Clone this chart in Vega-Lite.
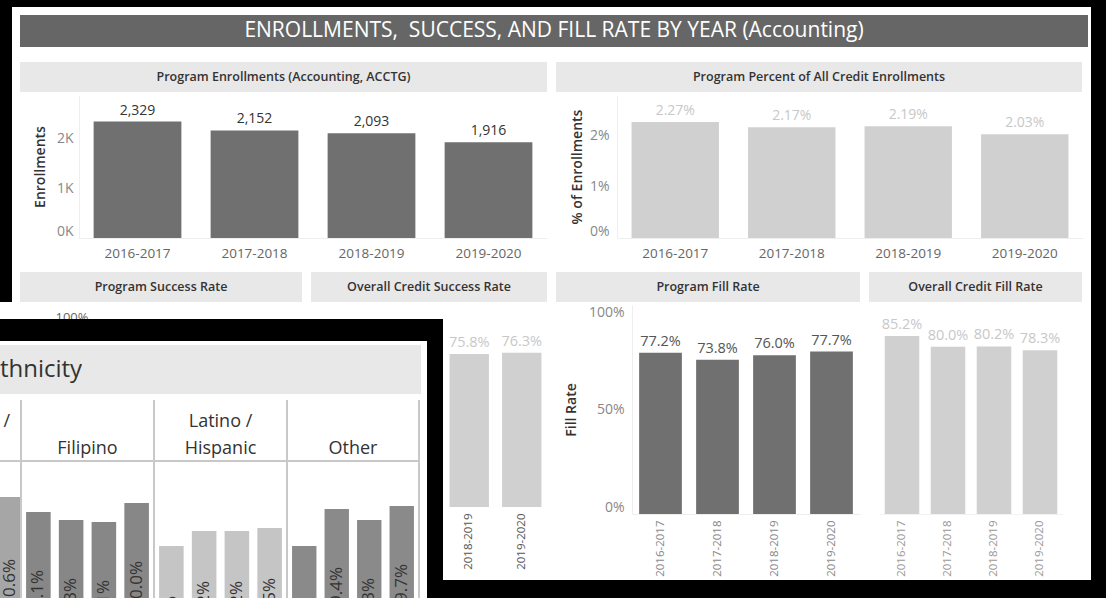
{
"$schema":"https://vega.github.io/schema/vega-lite/v6.json",
"background":"white",
"padding":0,
"spacing":0,
"config":{"view":{"stroke":null},"font":"Open Sans","concat":{"spacing":0},"axis":{"labelFont":"Open Sans","titleFont":"Open Sans"}},
"datasets":{
 "enroll":[{"year":"2016-2017","n":2329},{"year":"2017-2018","n":2152},{"year":"2018-2019","n":2093},{"year":"2019-2020","n":1916}],
 "pct":[{"year":"2016-2017","v":0.0227},{"year":"2017-2018","v":0.0217},{"year":"2018-2019","v":0.0219},{"year":"2019-2020","v":0.0203}],
 "osr":[{"year":"2018-2019","v":0.758},{"year":"2019-2020","v":0.763}],
 "fill":[{"year":"2016-2017","v":0.772},{"year":"2017-2018","v":0.738},{"year":"2018-2019","v":0.760},{"year":"2019-2020","v":0.777}],
 "ofill":[{"year":"2016-2017","v":0.852},{"year":"2017-2018","v":0.800},{"year":"2018-2019","v":0.802},{"year":"2019-2020","v":0.783}],
 "eth":[
  {"eth":"prev","year":"2019-2020","v":0.106},
  {"eth":"Filipino","year":"2016-2017","v":0.091},{"eth":"Filipino","year":"2017-2018","v":0.083},{"eth":"Filipino","year":"2018-2019","v":0.081},{"eth":"Filipino","year":"2019-2020","v":0.100},
  {"eth":"Latino","year":"2016-2017","v":0.057},{"eth":"Latino","year":"2017-2018","v":0.072},{"eth":"Latino","year":"2018-2019","v":0.072},{"eth":"Latino","year":"2019-2020","v":0.075},
  {"eth":"Other","year":"2016-2017","v":0.057},{"eth":"Other","year":"2017-2018","v":0.094},{"eth":"Other","year":"2018-2019","v":0.083},{"eth":"Other","year":"2019-2020","v":0.097}
 ]
},
"vconcat":[
 {"width":1106,"height":7,"data":{"values":[]},"mark":"point","view":{"fill":"black","stroke":null}},
 {"spacing":0,"hconcat":[
  {"spacing":0,"vconcat":[
   {"spacing":0,"hconcat":[
    {"width":12,"height":295,"data":{"values":[]},"mark":"point","view":{"fill":"black","stroke":null}},
    {"spacing":0,"vconcat":[
     {"width":1079,"height":8,"data":{"values":[]},"mark":"point"},
     {"bounds":"flush","spacing":0,"hconcat":[
      {"width":8,"height":32,"data":{"values":[]},"mark":"point"},
      {"width":1068,"height":32,"view":{"fill":"#666666","stroke":null},"data":{"values":[{"t":"ENROLLMENTS, \u00a0SUCCESS, AND FILL RATE BY YEAR (Accounting)"}]},"mark":{"type":"text","fontSize":21,"color":"white"},"encoding":{"text":{"field":"t"}}},
      {"width":3,"height":32,"data":{"values":[]},"mark":"point"}
     ]},
     {"width":1079,"height":15,"data":{"values":[]},"mark":"point"},
     {"bounds":"flush","spacing":0,"hconcat":[
      {"width":8,"height":30,"data":{"values":[]},"mark":"point"},
      {"width":527,"height":30,"view":{"fill":"#e8e8e8","stroke":null},"data":{"values":[{"t":"Program Enrollments (Accounting, ACCTG)"}]},"mark":{"type":"text","fontSize":12.5,"fontWeight":600,"color":"#333"},"encoding":{"text":{"field":"t"}}},
      {"width":9,"height":30,"data":{"values":[]},"mark":"point"},
      {"width":526,"height":30,"view":{"fill":"#e8e8e8","stroke":null},"data":{"values":[{"t":"Program Percent of All Credit Enrollments"}]},"mark":{"type":"text","fontSize":12.5,"fontWeight":600,"color":"#333"},"encoding":{"text":{"field":"t"}}},
      {"width":9,"height":30,"data":{"values":[]},"mark":"point"}
     ]},
     {"width":1079,"height":3,"data":{"values":[]},"mark":"point"},
     {"bounds":"flush","spacing":0,"hconcat":[
      {"width":67,"height":177,"data":{"values":[]},"mark":"point"},
      {"width":468,"height":143,"data":{"name":"enroll"},
       "encoding":{
        "x":{"field":"year","type":"nominal","sort":null,"scale":{"paddingInner":0.25,"paddingOuter":0.125},
             "axis":{"title":null,"labelAngle":0,"labelFontSize":13.5,"labelColor":"#666","ticks":false,"domainColor":"#eeeeee","labelPadding":8}},
        "y":{"field":"n","type":"quantitative","scale":{"domain":[0,2860]},
             "axis":{"title":"Enrollments","values":[0,1000,2000],"labelExpr":"datum.value / 1000 + 'K'","grid":false,"ticks":false,"domainColor":"#eeeeee","labelFlush":true,"labelFontSize":14,"labelColor":"#888","labelPadding":6,"titleFontSize":14,"titleColor":"#333","titleFontWeight":600,"titlePadding":9}}},
       "layer":[
        {"mark":{"type":"bar","color":"#707070"}},
        {"mark":{"type":"text","baseline":"bottom","dy":-4,"fontSize":14,"color":"#333"},"encoding":{"text":{"field":"n","type":"quantitative","format":","}}}
       ]},
      {"width":70,"height":177,"data":{"values":[]},"mark":"point"},
      {"width":466,"height":143,"data":{"name":"pct"},
       "encoding":{
        "x":{"field":"year","type":"nominal","sort":null,"scale":{"paddingInner":0.25,"paddingOuter":0.125},
             "axis":{"title":null,"labelAngle":0,"labelFontSize":13.5,"labelColor":"#666","ticks":false,"domainColor":"#eeeeee","labelPadding":8}},
        "y":{"field":"v","type":"quantitative","scale":{"domain":[0,0.028]},
             "axis":{"title":"% of Enrollments","values":[0,0.01,0.02],"format":".0%","grid":false,"ticks":false,"domainColor":"#eeeeee","labelFlush":true,"labelFontSize":14,"labelColor":"#888","labelPadding":8,"titleFontSize":14,"titleColor":"#333","titleFontWeight":600,"titlePadding":5}}},
       "layer":[
        {"mark":{"type":"bar","color":"#d0d0d0"}},
        {"mark":{"type":"text","baseline":"bottom","dy":-4,"fontSize":14,"color":"#c8c8c8"},"encoding":{"text":{"field":"v","type":"quantitative","format":".2%"}}}
       ]},
      {"width":8,"height":177,"data":{"values":[]},"mark":"point"}
     ]},
     {"bounds":"flush","spacing":0,"hconcat":[
      {"width":8,"height":30,"data":{"values":[]},"mark":"point"},
      {"width":282,"height":30,"view":{"fill":"#e8e8e8","stroke":null},"data":{"values":[{"t":"Program Success Rate"}]},"mark":{"type":"text","fontSize":12.5,"fontWeight":600,"color":"#333"},"encoding":{"text":{"field":"t"}}},
      {"width":9,"height":30,"data":{"values":[]},"mark":"point"},
      {"width":236,"height":30,"view":{"fill":"#e8e8e8","stroke":null},"data":{"values":[{"t":"Overall Credit Success Rate"}]},"mark":{"type":"text","fontSize":12.5,"fontWeight":600,"color":"#333"},"encoding":{"text":{"field":"t"}}},
      {"width":9,"height":30,"data":{"values":[]},"mark":"point"},
      {"width":304,"height":30,"view":{"fill":"#e8e8e8","stroke":null},"data":{"values":[{"t":"Program Fill Rate"}]},"mark":{"type":"text","fontSize":12.5,"fontWeight":600,"color":"#333"},"encoding":{"text":{"field":"t"}}},
      {"width":9,"height":30,"data":{"values":[]},"mark":"point"},
      {"width":213,"height":30,"view":{"fill":"#e8e8e8","stroke":null},"data":{"values":[{"t":"Overall Credit Fill Rate"}]},"mark":{"type":"text","fontSize":12.5,"fontWeight":600,"color":"#333"},"encoding":{"text":{"field":"t"}}},
      {"width":9,"height":30,"data":{"values":[]},"mark":"point"}
     ]}
    ]}
   ]},
   {"spacing":0,"hconcat":[
    {"spacing":0,"vconcat":[
     {"bounds":"flush","spacing":0,"hconcat":[
      {"width":55,"height":17,"data":{"values":[]},"mark":"point"},
      {"width":34,"height":17,"data":{"values":[{"t":"100%"}]},"mark":{"type":"text","fontSize":13,"color":"#666","dy":7,"clip":true},"encoding":{"text":{"field":"t"}}},
      {"width":354,"height":17,"data":{"values":[]},"mark":"point"}
     ]},
     {"width":443,"height":22,"data":{"values":[]},"mark":"point","view":{"fill":"black","stroke":null}},
     {"spacing":0,"hconcat":[
      {"spacing":0,"vconcat":[
       {"width":427,"height":4,"data":{"values":[]},"mark":"point"},
       {"bounds":"flush","spacing":0,"hconcat":[
        {"width":82,"height":49,"view":{"fill":"#e8e8e8","stroke":null},"data":{"values":[{"t":"thnicity"}]},"mark":{"type":"text","fontSize":24,"color":"#333","clip":true},"encoding":{"text":{"field":"t"}}},
        {"width":339,"height":49,"view":{"fill":"#e8e8e8","stroke":null},"data":{"values":[]},"mark":"point"},
        {"width":6,"height":49,"data":{"values":[]},"mark":"point"}
       ]},
       {"width":427,"height":6,"data":{"values":[]},"mark":"point"},
       {"spacing":0,"hconcat":[
        {"spacing":0,"vconcat":[
         {"width":20,"height":60,"data":{"values":[{"t":"/\n"}]},"mark":{"type":"text","fontSize":18,"color":"#333","lineBreak":"\n","lineHeight":27,"baseline":"bottom","align":"right","dy":1,"clip":true},"encoding":{"text":{"field":"t"}}},
         {"width":20,"height":2,"data":{"values":[]},"mark":"point","view":{"fill":"#c8c8c8","stroke":null}},
         {"width":20,"height":136,"data":{"name":"eth"},"transform":[{"filter":{"field":"eth","equal":"prev"}}],
          "encoding":{"x":{"field":"year","type":"nominal","sort":null,"axis":null,"scale":{"paddingInner":0.1,"paddingOuter":0,"align":0}},
                      "y":{"field":"v","type":"quantitative","axis":null,"scale":{"domain":[0.005,0.141]}}},
          "layer":[
           {"mark":{"type":"bar","color":"#a6a6a6","clip":true}},
           {"mark":{"type":"text","clip":true,"angle":270,"align":"right","baseline":"middle","dx":-62,"fontSize":17,"color":"#333"},"encoding":{"text":{"field":"v","type":"quantitative","format":".1%"}}}
          ]}
        ]},
        {"width":2,"height":198,"data":{"values":[]},"mark":"point","view":{"fill":"#c8c8c8","stroke":null}},
        {"spacing":0,"vconcat":[
         {"width":131,"height":60,"data":{"values":[{"t":"\nFilipino"}]},"mark":{"type":"text","fontSize":18,"color":"#333","lineBreak":"\n","lineHeight":27,"baseline":"bottom","dy":1,"clip":true},"encoding":{"text":{"field":"t"}}},
         {"width":131,"height":2,"data":{"values":[]},"mark":"point","view":{"fill":"#c8c8c8","stroke":null}},
         {"width":131,"height":136,"data":{"name":"eth"},"transform":[{"filter":{"field":"eth","equal":"Filipino"}}],
          "encoding":{"x":{"field":"year","type":"nominal","sort":null,"axis":null,"scale":{"paddingInner":0.25,"paddingOuter":0.125}},
                      "y":{"field":"v","type":"quantitative","axis":null,"scale":{"domain":[0.005,0.141]}}},
          "layer":[
           {"mark":{"type":"bar","color":"#878787","clip":true}},
           {"mark":{"type":"text","clip":true,"angle":270,"align":"right","baseline":"middle","dx":-58,"fontSize":17,"color":"#333"},"encoding":{"text":{"field":"v","type":"quantitative","format":".1%"}}}
          ]}
        ]},
        {"width":2,"height":198,"data":{"values":[]},"mark":"point","view":{"fill":"#c8c8c8","stroke":null}},
        {"spacing":0,"vconcat":[
         {"width":131,"height":60,"data":{"values":[{"t":"Latino /\nHispanic"}]},"mark":{"type":"text","fontSize":18,"color":"#333","lineBreak":"\n","lineHeight":27,"baseline":"bottom","dy":1,"clip":true},"encoding":{"text":{"field":"t"}}},
         {"width":131,"height":2,"data":{"values":[]},"mark":"point","view":{"fill":"#c8c8c8","stroke":null}},
         {"width":131,"height":136,"data":{"name":"eth"},"transform":[{"filter":{"field":"eth","equal":"Latino"}}],
          "encoding":{"x":{"field":"year","type":"nominal","sort":null,"axis":null,"scale":{"paddingInner":0.25,"paddingOuter":0.125}},
                      "y":{"field":"v","type":"quantitative","axis":null,"scale":{"domain":[0.005,0.141]}}},
          "layer":[
           {"mark":{"type":"bar","color":"#c5c5c5","clip":true}},
           {"mark":{"type":"text","clip":true,"angle":270,"align":"right","baseline":"middle","dx":-50,"fontSize":17,"color":"#333"},"encoding":{"text":{"field":"v","type":"quantitative","format":".1%"}}}
          ]}
        ]},
        {"width":2,"height":198,"data":{"values":[]},"mark":"point","view":{"fill":"#c8c8c8","stroke":null}},
        {"spacing":0,"vconcat":[
         {"width":130,"height":60,"data":{"values":[{"t":"\nOther"}]},"mark":{"type":"text","fontSize":18,"color":"#333","lineBreak":"\n","lineHeight":27,"baseline":"bottom","dy":1,"clip":true},"encoding":{"text":{"field":"t"}}},
         {"width":130,"height":2,"data":{"values":[]},"mark":"point","view":{"fill":"#c8c8c8","stroke":null}},
         {"width":130,"height":136,"data":{"name":"eth"},"transform":[{"filter":{"field":"eth","equal":"Other"}}],
          "encoding":{"x":{"field":"year","type":"nominal","sort":null,"axis":null,"scale":{"paddingInner":0.25,"paddingOuter":0.125}},
                      "y":{"field":"v","type":"quantitative","axis":null,"scale":{"domain":[0.005,0.141]}}},
          "layer":[
           {"mark":{"type":"bar","color":"#8a8a8a","clip":true}},
           {"mark":{"type":"text","clip":true,"angle":270,"align":"right","baseline":"middle","dx":-58,"fontSize":17,"color":"#333"},"encoding":{"text":{"field":"v","type":"quantitative","format":".1%"}}}
          ]}
        ]},
        {"width":2,"height":198,"data":{"values":[]},"mark":"point","view":{"fill":"#c8c8c8","stroke":null}},
        {"width":7,"height":198,"data":{"values":[]},"mark":"point"}
       ]}
      ]},
      {"width":16,"height":257,"data":{"values":[]},"mark":"point","view":{"fill":"black","stroke":null}}
     ]}
    ]},
    {"spacing":0,"vconcat":[
     {"width":648,"height":3,"data":{"values":[]},"mark":"point"},
     {"bounds":"flush","spacing":0,"hconcat":[
      {"width":105,"height":202,"data":{"name":"osr"},
       "encoding":{
        "x":{"field":"year","type":"nominal","sort":null,"scale":{"paddingInner":0.25,"paddingOuter":0.125},
             "axis":{"title":null,"labelAngle":270,"labelFontSize":11.5,"labelColor":"#555","ticks":false,"domain":false,"labelPadding":6}},
        "y":{"field":"v","type":"quantitative","scale":{"domain":[0,1]},"axis":null}},
       "layer":[
        {"mark":{"type":"bar","color":"#d0d0d0"}},
        {"mark":{"type":"text","baseline":"bottom","dy":-4,"fontSize":14.5,"color":"#c8c8c8"},"encoding":{"text":{"field":"v","type":"quantitative","format":".1%"}}}
       ]},
      {"width":84,"height":275,"data":{"values":[]},"mark":"point"},
      {"width":228,"height":209,"data":{"name":"fill"},
       "encoding":{
        "x":{"field":"year","type":"nominal","sort":null,"scale":{"paddingInner":0.25,"paddingOuter":0.125},
             "axis":{"title":null,"labelAngle":270,"labelFontSize":11.5,"labelColor":"#888","ticks":false,"domainColor":"#eeeeee","labelPadding":6}},
        "y":{"field":"v","type":"quantitative","scale":{"domain":[0,1]},
             "axis":{"title":"Fill Rate","values":[0,0.5,1],"format":".0%","grid":false,"ticks":false,"domainColor":"#eeeeee","labelFlush":true,"labelFontSize":14,"labelColor":"#888","labelPadding":8,"titleFontSize":14,"titleColor":"#333","titleFontWeight":600,"titlePadding":10}}},
       "layer":[
        {"mark":{"type":"bar","color":"#707070"}},
        {"mark":{"type":"text","baseline":"bottom","dy":-4,"fontSize":14.5,"color":"#555"},"encoding":{"text":{"field":"v","type":"quantitative","format":".1%"}}}
       ]},
      {"width":19,"height":275,"data":{"values":[]},"mark":"point"},
      {"width":184,"height":209,"data":{"name":"ofill"},
       "encoding":{
        "x":{"field":"year","type":"nominal","sort":null,"scale":{"paddingInner":0.25,"paddingOuter":0.125},
             "axis":{"title":null,"labelAngle":270,"labelFontSize":11.5,"labelColor":"#999","ticks":false,"domainColor":"#f2f2f2","labelPadding":6}},
        "y":{"field":"v","type":"quantitative","scale":{"domain":[0,1]},"axis":null}},
       "layer":[
        {"mark":{"type":"bar","color":"#d0d0d0"}},
        {"mark":{"type":"text","baseline":"bottom","dy":-4,"fontSize":14.5,"color":"#c8c8c8"},"encoding":{"text":{"field":"v","type":"quantitative","format":".1%"}}}
       ]},
      {"width":28,"height":275,"data":{"values":[]},"mark":"point"}
     ]},
     {"width":648,"height":18,"data":{"values":[]},"mark":"point","view":{"fill":"black","stroke":null}}
    ]}
   ]}
  ]},
  {"width":15,"height":591,"data":{"values":[]},"mark":"point","view":{"fill":"black","stroke":null}}
 ]}
]
}
